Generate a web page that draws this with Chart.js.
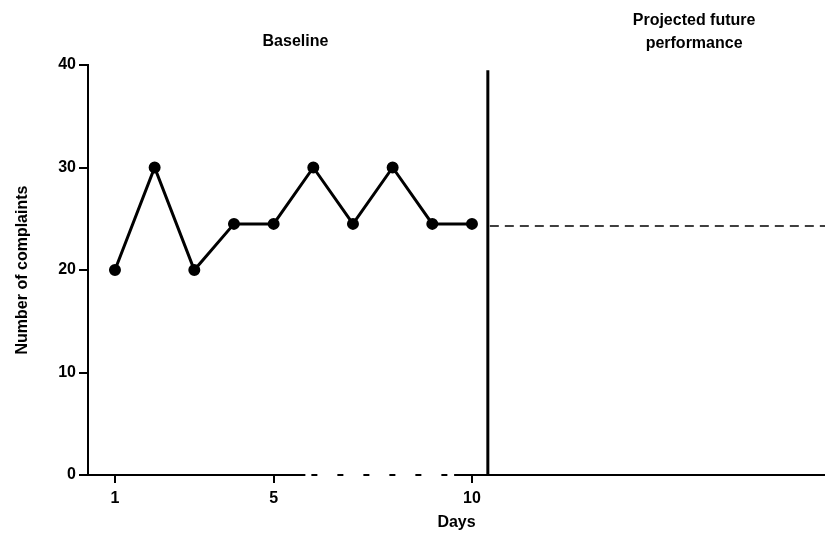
<!DOCTYPE html>
<html>
<head>
<meta charset="utf-8">
<script src="https://cdn.jsdelivr.net/npm/chart.js@4"></script>
<style>
html,body{margin:0;padding:0;background:#fff;}
#wrap{width:825px;height:536px;}
</style>
</head>
<body>
<div id="wrap"><canvas id="c" width="825" height="536"></canvas></div>
<script>
const days = [1, 2, 3, 4, 5, 6, 7, 8, 9, 10];
const complaints = [20, 30, 20, 24.5, 24.5, 30, 24.5, 30, 24.5, 24.5];
const yTickValues = [0, 10, 20, 30, 40];
const xTickValues = [1, 5, 10];
const projectedLevel = 24.3;
const phaseLineDay = 10.4;
const phaseLineTop = 39.5;
const xMin = 0.32;
const xMax = 18.9;
const baselineTitle = "Baseline";
const projectedTitle = ["Projected future", "performance"];
const xTitle = "Days";
const yTitle = "Number of complaints";

const FONT = "'Liberation Sans', Arial, sans-serif";

const baselinePoints = days.map((d, i) => ({x: d, y: complaints[i]}));
const phaseLine = [{x: phaseLineDay, y: 0}, {x: phaseLineDay, y: phaseLineTop}];
const projectedLine = [{x: phaseLineDay + 0.05, y: projectedLevel}, {x: xMax, y: projectedLevel}];

const annotations = {
  id: 'annotations',
  afterDraw(chart) {
    const ctx = chart.ctx;
    const xs = chart.scales.x, ys = chart.scales.y;
    const yb = ys.getPixelForValue(0);
    ctx.save();
    ctx.strokeStyle = '#000';
    ctx.lineWidth = 2;
    // x axis line with broken segment
    const a = xs.getPixelForValue(xMin), b = xs.getPixelForValue(5.8),
          c = xs.getPixelForValue(9.55), d = xs.getPixelForValue(xMax);
    ctx.beginPath(); ctx.moveTo(a, yb); ctx.lineTo(b, yb); ctx.stroke();
    ctx.setLineDash([6, 20]);
    ctx.beginPath(); ctx.moveTo(b + 6, yb); ctx.lineTo(c, yb); ctx.stroke();
    ctx.setLineDash([]);
    ctx.beginPath(); ctx.moveTo(c, yb); ctx.lineTo(d, yb); ctx.stroke();
    // titles
    ctx.fillStyle = '#000';
    ctx.textAlign = 'center';
    ctx.textBaseline = 'middle';
    ctx.font = 'bold 16px ' + FONT;
    ctx.fillText(baselineTitle, xs.getPixelForValue(5.55), 42);
    ctx.fillText(projectedTitle[0], xs.getPixelForValue(15.6), 21);
    ctx.fillText(projectedTitle[1], xs.getPixelForValue(15.6), 44);
    ctx.restore();
  }
};

new Chart(document.getElementById('c'), {
  type: 'line',
  data: {
    datasets: [
      {
        data: baselinePoints,
        borderColor: '#000',
        backgroundColor: '#000',
        borderWidth: 3,
        pointRadius: 4.5,
        pointStyle: 'circle',
        tension: 0
      },
      {
        data: phaseLine,
        borderColor: '#000',
        borderWidth: 3,
        pointRadius: 0,
        clip: false
      },
      {
        data: projectedLine,
        borderColor: '#000',
        borderWidth: 1.5,
        borderDash: [9, 6],
        pointRadius: 0,
        clip: false
      }
    ]
  },
  options: {
    responsive: false,
    animation: false,
    events: [],
    layout: {autoPadding: false, padding: {top: 65, left: 10, right: 0, bottom: 0}},
    plugins: {legend: {display: false}, tooltip: {enabled: false}, title: {display: false}},
    scales: {
      x: {
        type: 'linear',
        min: xMin,
        max: xMax,
        afterBuildTicks(scale) { scale.ticks = xTickValues.map(v => ({value: v})); },
        afterFit(scale) { scale.height = 61; },
        ticks: {
          color: '#000',
          font: {family: FONT, size: 16, weight: 'bold'},
          padding: 6,
          maxRotation: 0,
          callback: v => String(v)
        },
        grid: {display: true, drawOnChartArea: false, drawTicks: true, tickLength: 8, color: '#000', lineWidth: 2},
        border: {display: false},
        title: {display: true, text: xTitle, color: '#000', font: {family: FONT, size: 16, weight: 'bold'}, padding: {top: 0, bottom: 4}}
      },
      y: {
        min: 0,
        max: 40,
        afterBuildTicks(scale) { scale.ticks = yTickValues.map(v => ({value: v})); },
        afterFit(scale) { scale.width = 78; },
        ticks: {
          color: '#000',
          font: {family: FONT, size: 16, weight: 'bold'},
          padding: 3
        },
        grid: {display: true, drawOnChartArea: false, drawTicks: true, tickLength: 9, color: '#000', lineWidth: 2},
        border: {display: true, color: '#000', width: 2},
        title: {display: true, text: yTitle, color: '#000', font: {family: FONT, size: 16, weight: 'bold'}, padding: {top: 3, bottom: 0}}
      }
    }
  },
  plugins: [annotations]
});
</script>
</body>
</html>
